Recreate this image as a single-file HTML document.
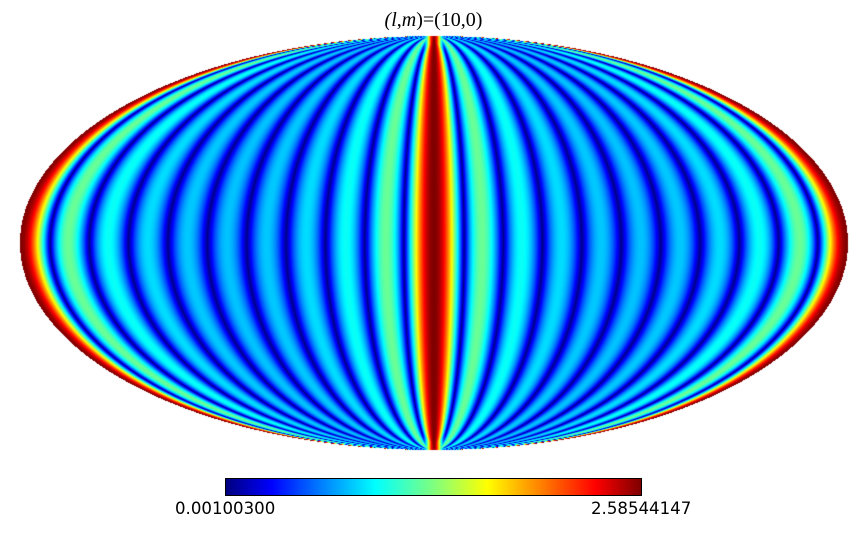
<!DOCTYPE html>
<html><head><meta charset="utf-8">
<style>
html,body{margin:0;padding:0;background:#fff;}
#wrap{position:relative;width:867px;height:557px;overflow:hidden;font-family:"DejaVu Sans","Liberation Sans",sans-serif;}
#title{position:absolute;left:0;width:867px;top:9px;text-align:center;font-family:"Liberation Serif",serif;font-size:20px;}
#map{position:absolute;left:0;top:0;}
#cbar{position:absolute;left:225px;top:478px;width:415px;height:16px;border:1px solid #000;
background:linear-gradient(to right,#00007f 0%,#0000ff 11%,#007fff 23%,#00ffff 36%,#7fff7f 50%,#ffff00 63%,#ff7f00 76%,#ff0000 89%,#7f0000 100%);}
.lab{position:absolute;top:499px;font-size:16.6px;color:#000;}
</style></head><body>
<div id="wrap">
<canvas id="map" width="867" height="557"></canvas>
<div id="title"><i>(l</i>,<i>m</i>)=(10,0)</div>
<div id="cbar"></div>
<div class="lab" style="left:175px">0.00100300</div>
<div class="lab" style="left:591px">2.58544147</div>
</div>
<script>
const degree=[10];
const order=[0];
const rangeVals=[0.00100300,2.58544147];
function P(l,x){let p0=1,p1=x;if(l===0)return 1;for(let k=2;k<=l;k++){const p2=((2*k-1)*x*p1-(k-1)*p0)/k;p0=p1;p1=p2;}return p1;}
function jet(t){t=Math.max(0,Math.min(1,t));
const r=Math.max(0,Math.min(1,1.5-Math.abs(4*t-3)));
const g=Math.max(0,Math.min(1,1.5-Math.abs(4*t-2)));
const b=Math.max(0,Math.min(1,1.5-Math.abs(4*t-1)));return [r*255,g*255,b*255];}
const c=document.getElementById('map'),ctx=c.getContext('2d');
const img=ctx.createImageData(867,557);
const cx=434,cy=243,a=414,b=207,L=degree[0];
for(let py=0;py<557;py++)for(let px=0;px<867;px++){
 const xn=(px+0.5-cx)/a,yn=(cy-py-0.5)/b;
 if(xn*xn+yn*yn>1)continue;
 const th=Math.asin(yn);const cs=Math.max(0.06,Math.cos(th));
 const lam=Math.PI*xn/cs;
 let v=Math.abs(P(L,Math.cos(lam)));
 v=Math.pow(v,0.82);
 const dx=px+0.5-cx;
 v=Math.max(v,Math.exp(-(dx*dx)/(2*5.5*5.5))*0.97);
 const col=jet(v);const i=(py*867+px)*4;
 img.data[i]=col[0];img.data[i+1]=col[1];img.data[i+2]=col[2];img.data[i+3]=255;}
ctx.putImageData(img,0,0);
</script>
</body></html>
